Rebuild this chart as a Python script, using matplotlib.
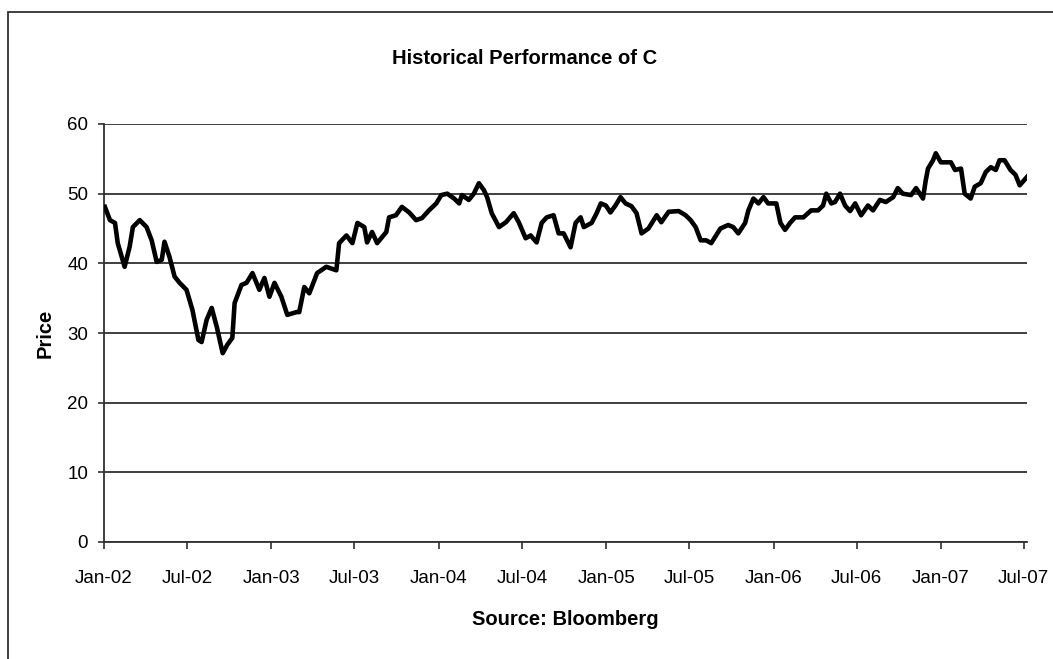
"""Historical price chart of C (Citigroup), Jan 2002 - Jul 2007."""

import matplotlib
matplotlib.use("Agg")
import matplotlib.pyplot as plt
import matplotlib.dates as mdates
import matplotlib.patches as patches
import pandas as pd

# --- data ---
dates = [
    "2002-01-03", "2002-01-14", "2002-01-25", "2002-01-31", "2002-02-15", "2002-02-26",
    "2002-03-05", "2002-03-20", "2002-04-04", "2002-04-15", "2002-04-26", "2002-05-07",
    "2002-05-13", "2002-05-24", "2002-06-04", "2002-06-15", "2002-06-30", "2002-07-13",
    "2002-07-26", "2002-08-02", "2002-08-13", "2002-08-24", "2002-09-04", "2002-09-17",
    "2002-09-27", "2002-10-08", "2002-10-13", "2002-10-28", "2002-11-08", "2002-11-21",
    "2002-12-06", "2002-12-17", "2002-12-28", "2003-01-08", "2003-01-23", "2003-02-05",
    "2003-02-25", "2003-03-03", "2003-03-14", "2003-03-25", "2003-04-11", "2003-05-01",
    "2003-05-23", "2003-05-29", "2003-06-14", "2003-06-27", "2003-07-08", "2003-07-23",
    "2003-07-29", "2003-08-09", "2003-08-20", "2003-09-09", "2003-09-15", "2003-09-30",
    "2003-10-13", "2003-10-29", "2003-11-13", "2003-11-26", "2003-12-11", "2003-12-27",
    "2004-01-07", "2004-01-20", "2004-02-04", "2004-02-15", "2004-02-21", "2004-03-07",
    "2004-03-18", "2004-03-29", "2004-04-09", "2004-04-16", "2004-04-26", "2004-05-12",
    "2004-05-27", "2004-06-13", "2004-06-24", "2004-07-09", "2004-07-20", "2004-08-02",
    "2004-08-13", "2004-08-24", "2004-09-08", "2004-09-19", "2004-09-30", "2004-10-15",
    "2004-10-26", "2004-11-06", "2004-11-13", "2004-11-30", "2004-12-11", "2004-12-20",
    "2004-12-31", "2005-01-10", "2005-01-21", "2005-02-01", "2005-02-12", "2005-02-25",
    "2005-03-08", "2005-03-19", "2005-04-03", "2005-04-21", "2005-05-01", "2005-05-17",
    "2005-06-08", "2005-06-23", "2005-07-04", "2005-07-15", "2005-07-26", "2005-08-07",
    "2005-08-18", "2005-09-07", "2005-09-24", "2005-10-05", "2005-10-16", "2005-10-31",
    "2005-11-07", "2005-11-18", "2005-11-29", "2005-12-10", "2005-12-20", "2006-01-07",
    "2006-01-16", "2006-01-26", "2006-02-06", "2006-02-17", "2006-03-07", "2006-03-24",
    "2006-04-08", "2006-04-19", "2006-04-26", "2006-05-07", "2006-05-15", "2006-05-26",
    "2006-06-06", "2006-06-17", "2006-06-28", "2006-07-11", "2006-07-26", "2006-08-06",
    "2006-08-21", "2006-09-03", "2006-09-19", "2006-09-29", "2006-10-10", "2006-10-28",
    "2006-11-08", "2006-11-23", "2006-11-29", "2006-12-04", "2006-12-15", "2006-12-21",
    "2007-01-01", "2007-01-23", "2007-02-01", "2007-02-14", "2007-02-22", "2007-03-07",
    "2007-03-16", "2007-03-29", "2007-04-09", "2007-04-20", "2007-05-01", "2007-05-09",
    "2007-05-20", "2007-06-02", "2007-06-13", "2007-06-22", "2007-07-08",
]
prices = [
    48.1, 46.2, 45.8, 42.9, 39.5, 42.4,
    45.2, 46.2, 45.2, 43.3, 40.2, 40.5,
    43.1, 40.9, 38.1, 37.2, 36.2, 33.3,
    29.0, 28.7, 31.9, 33.6, 30.9, 27.1,
    28.3, 29.3, 34.3, 36.9, 37.2, 38.6,
    36.2, 37.9, 35.2, 37.2, 35.2, 32.6,
    33.0, 33.0, 36.6, 35.7, 38.6, 39.5,
    39.0, 42.9, 44.0, 42.9, 45.8, 45.2,
    43.0, 44.5, 42.9, 44.5, 46.6, 46.9,
    48.1, 47.3, 46.2, 46.5, 47.6, 48.6,
    49.8, 50.0, 49.3, 48.6, 49.8, 49.1,
    50.0, 51.5, 50.5, 49.5, 47.2, 45.2,
    45.9, 47.2, 45.9, 43.6, 44.0, 43.0,
    45.8, 46.6, 46.9, 44.3, 44.3, 42.3,
    45.8, 46.6, 45.2, 45.8, 47.2, 48.6,
    48.3, 47.3, 48.3, 49.5, 48.6, 48.2,
    47.2, 44.3, 45.0, 46.9, 45.9, 47.4,
    47.5, 46.9, 46.2, 45.2, 43.3, 43.3,
    42.9, 45.0, 45.5, 45.2, 44.3, 45.8,
    47.6, 49.3, 48.6, 49.5, 48.6, 48.6,
    45.8, 44.8, 45.8, 46.6, 46.6, 47.6,
    47.6, 48.3, 50.0, 48.6, 48.8, 50.0,
    48.3, 47.5, 48.6, 46.9, 48.3, 47.6,
    49.1, 48.8, 49.5, 50.8, 50.0, 49.8,
    50.8, 49.3, 51.9, 53.6, 54.8, 55.8,
    54.5, 54.5, 53.4, 53.6, 50.0, 49.3,
    51.0, 51.5, 53.1, 53.8, 53.4, 54.8,
    54.8, 53.4, 52.7, 51.2, 52.4,
]

x_start = "2002-01-01"
x_end = "2007-07-08"
y_ticks = [0, 10, 20, 30, 40, 50, 60]

title = "Historical Performance of C"
y_label = "Price"
x_label = "Source: Bloomberg"

# --- styling ---
plt.rcParams['font.family'] = ['Liberation Sans', 'DejaVu Sans']
GRID = '#303030'

W, H = 1053, 659
fig = plt.figure(figsize=(W / 100, H / 100), dpi=100)
fig.patch.set_facecolor('white')

# outer chart border (left and top edges visible, others run off the image)
border = patches.Rectangle((8 / W, -0.05), 1.2, (H - 12) / H + 0.05,
                           transform=fig.transFigure, fill=False,
                           edgecolor=GRID, linewidth=1.3, clip_on=False)
fig.patches.append(border)

ax = fig.add_axes([104 / W, 117 / H, 923 / W, 418 / H])

x = pd.to_datetime(dates)
ax.plot(x, prices, color='black', linewidth=3.3, solid_joinstyle='round', zorder=3)

ax.set_xlim(pd.Timestamp(x_start), pd.Timestamp(x_end))
ax.set_ylim(0, 60)
ax.set_yticks(y_ticks)
ax.xaxis.set_major_locator(mdates.MonthLocator(bymonth=[1, 7]))
ax.xaxis.set_major_formatter(mdates.DateFormatter('%b-%y'))

# horizontal gridlines only, no box
ax.yaxis.grid(True, color=GRID, linewidth=1.3)
ax.set_axisbelow(True)
for side in ['top', 'right']:
    ax.spines[side].set_visible(False)
for side in ['left', 'bottom']:
    ax.spines[side].set_color(GRID)
    ax.spines[side].set_linewidth(1.3)

ax.tick_params(axis='y', direction='out', length=4.5, width=1.2, color=GRID,
               labelsize=13.5, pad=7)
ax.tick_params(axis='x', direction='out', length=5, width=1.2, color=GRID,
               labelsize=13.5, pad=15)

ax.set_ylabel(y_label, fontsize=14.5, fontweight='bold', labelpad=9)
ax.set_xlabel(x_label, fontsize=14.5, fontweight='bold', labelpad=17)
fig.text(525 / W, 1 - 58 / H, title, ha='center', va='center',
         fontsize=14.5, fontweight='bold')

fig.savefig("out.png", dpi=100)
